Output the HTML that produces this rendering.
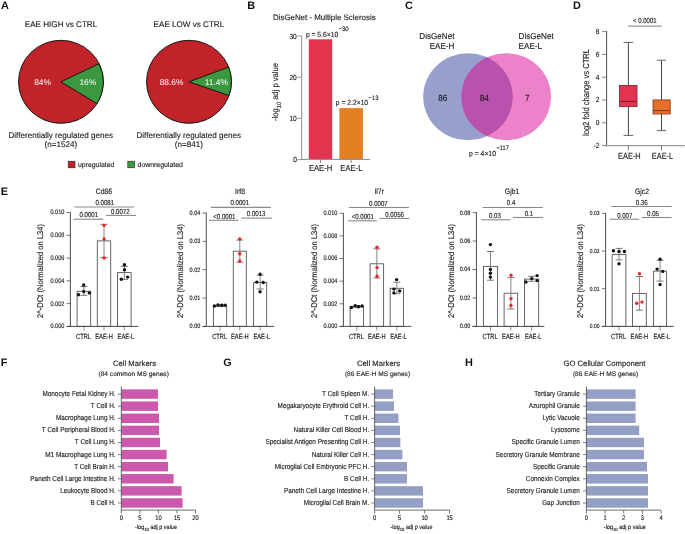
<!DOCTYPE html>
<html><head><meta charset="utf-8"><style>
html,body{margin:0;padding:0;background:#fff;}
svg{display:block;will-change:transform;text-rendering:geometricPrecision;font-family:"Liberation Sans",sans-serif;}
</style></head><body>
<svg width="685" height="534" viewBox="0 0 685 534">
<rect width="685" height="534" fill="#fff"/>
<text x="1.00" y="9.00" font-size="10.9" text-anchor="start" fill="#111" font-weight="bold" >A</text>
<text x="247.15" y="8.70" font-size="10.9" text-anchor="start" fill="#111" font-weight="bold" >B</text>
<text x="405.05" y="8.90" font-size="10.9" text-anchor="start" fill="#111" font-weight="bold" >C</text>
<text x="573.05" y="8.60" font-size="10.9" text-anchor="start" fill="#111" font-weight="bold" >D</text>
<text x="0.85" y="194.80" font-size="10.9" text-anchor="start" fill="#111" font-weight="bold" >E</text>
<text x="0.85" y="365.70" font-size="10.9" text-anchor="start" fill="#111" font-weight="bold" >F</text>
<text x="223.35" y="365.80" font-size="10.9" text-anchor="start" fill="#111" font-weight="bold" >G</text>
<text x="465.05" y="365.70" font-size="10.9" text-anchor="start" fill="#111" font-weight="bold" >H</text>
<ellipse cx="60.95" cy="81.8" rx="42.45" ry="41.5" fill="#c02428" stroke="#111" stroke-width="0.95"/>
<path d="M60.95,81.8 L99.14,63.67 A42.45,41.5 0 0 1 97.03,103.67 Z" fill="#3c983f" stroke="#111" stroke-width="0.95" stroke-linejoin="round"/>
<ellipse cx="188.95" cy="81.8" rx="42.45" ry="41.5" fill="#c02428" stroke="#111" stroke-width="0.95"/>
<path d="M188.95,81.8 L228.63,67.06 A42.45,41.5 0 0 1 228.99,95.58 Z" fill="#3c983f" stroke="#111" stroke-width="0.95" stroke-linejoin="round"/>
<text x="61.00" y="26.90" font-size="8.1" text-anchor="middle" fill="#1e1e1e" stroke="#1e1e1e" stroke-width="0.13" >EAE HIGH vs CTRL</text>
<text x="188.90" y="26.90" font-size="8.1" text-anchor="middle" fill="#1e1e1e" stroke="#1e1e1e" stroke-width="0.13" >EAE LOW vs CTRL</text>
<text x="42.60" y="84.80" font-size="8.4" text-anchor="middle" fill="#fff" >84%</text>
<text x="87.80" y="84.80" font-size="8.4" text-anchor="middle" fill="#fff" >16%</text>
<text x="171.50" y="84.80" font-size="8.4" text-anchor="middle" fill="#fff" >88.6%</text>
<text x="216.30" y="84.80" font-size="8.4" text-anchor="middle" fill="#fff" >11.4%</text>
<text x="60.80" y="138.40" font-size="8.1" text-anchor="middle" fill="#1e1e1e" stroke="#1e1e1e" stroke-width="0.13" >Differentially regulated genes</text>
<text x="60.80" y="147.40" font-size="8.1" text-anchor="middle" fill="#1e1e1e" stroke="#1e1e1e" stroke-width="0.13" >(n=1524)</text>
<text x="188.80" y="138.40" font-size="8.1" text-anchor="middle" fill="#1e1e1e" stroke="#1e1e1e" stroke-width="0.13" >Differentially regulated genes</text>
<text x="188.80" y="147.40" font-size="8.1" text-anchor="middle" fill="#1e1e1e" stroke="#1e1e1e" stroke-width="0.13" >(n=841)</text>
<rect x="68.20" y="161.20" width="6.80" height="6.60" fill="#c02428" stroke="#222" stroke-width="0.6"/>
<text x="78.00" y="167.00" font-size="6.9" text-anchor="start" fill="#1e1e1e" stroke="#1e1e1e" stroke-width="0.13" >upregulated</text>
<rect x="127.80" y="161.20" width="6.80" height="6.60" fill="#3c983f" stroke="#222" stroke-width="0.6"/>
<text x="137.60" y="167.00" font-size="6.9" text-anchor="start" fill="#1e1e1e" stroke="#1e1e1e" stroke-width="0.13" >downregulated</text>
<text x="273.00" y="19.80" font-size="7.9" text-anchor="start" fill="#1e1e1e" stroke="#1e1e1e" stroke-width="0.13" >DisGeNet - Multiple Sclerosis</text>
<line x1="297.50" y1="159.60" x2="301.70" y2="159.60" stroke="#8a8a8a" stroke-width="0.9"/>
<text transform="translate(296.80,162.10) scale(1,1.12)" font-size="6.6" text-anchor="end" fill="#1e1e1e" stroke="#1e1e1e" stroke-width="0.13" >0</text>
<line x1="297.50" y1="118.40" x2="301.70" y2="118.40" stroke="#8a8a8a" stroke-width="0.9"/>
<text transform="translate(296.80,120.90) scale(1,1.12)" font-size="6.6" text-anchor="end" fill="#1e1e1e" stroke="#1e1e1e" stroke-width="0.13" >10</text>
<line x1="297.50" y1="77.20" x2="301.70" y2="77.20" stroke="#8a8a8a" stroke-width="0.9"/>
<text transform="translate(296.80,79.70) scale(1,1.12)" font-size="6.6" text-anchor="end" fill="#1e1e1e" stroke="#1e1e1e" stroke-width="0.13" >20</text>
<line x1="297.50" y1="36.00" x2="301.70" y2="36.00" stroke="#8a8a8a" stroke-width="0.9"/>
<text transform="translate(296.80,38.50) scale(1,1.12)" font-size="6.6" text-anchor="end" fill="#1e1e1e" stroke="#1e1e1e" stroke-width="0.13" >30</text>
<rect x="308.80" y="39.30" width="23.40" height="120.10" fill="#e3334f"/>
<rect x="339.40" y="108.10" width="23.50" height="51.30" fill="#e38024"/>
<line x1="301.70" y1="35.60" x2="301.70" y2="159.90" stroke="#8a8a8a" stroke-width="1.0"/>
<line x1="301.20" y1="159.40" x2="370.20" y2="159.40" stroke="#8a8a8a" stroke-width="1.0"/>
<line x1="320.50" y1="159.40" x2="320.50" y2="163.00" stroke="#666" stroke-width="0.8"/>
<line x1="351.20" y1="159.40" x2="351.20" y2="163.00" stroke="#666" stroke-width="0.8"/>
<text transform="translate(320.60,170.60) scale(1,1.13)" font-size="7.66" text-anchor="middle" fill="#1e1e1e" stroke="#1e1e1e" stroke-width="0.13" >EAE-H</text>
<text transform="translate(351.40,170.60) scale(1,1.13)" font-size="7.66" text-anchor="middle" fill="#1e1e1e" stroke="#1e1e1e" stroke-width="0.13" >EAE-L</text>
<text transform="translate(305.90,37.00) scale(1,1.1)" font-size="6.75" text-anchor="start" fill="#1e1e1e" stroke="#1e1e1e" stroke-width="0.13" >p = 5.6×10</text>
<text transform="translate(338.40,31.20) scale(1,1.1)" font-size="6.0" text-anchor="start" fill="#1e1e1e" stroke="#1e1e1e" stroke-width="0.13" >−30</text>
<text transform="translate(335.80,104.90) scale(1,1.1)" font-size="6.75" text-anchor="start" fill="#1e1e1e" stroke="#1e1e1e" stroke-width="0.13" >p = 2.2×10</text>
<text transform="translate(368.30,100.10) scale(1,1.1)" font-size="6.0" text-anchor="start" fill="#1e1e1e" stroke="#1e1e1e" stroke-width="0.13" >−13</text>
<text transform="translate(277.6,92.0) rotate(-90) scale(1,1.1)" font-size="7.6" text-anchor="middle" fill="#1e1e1e" stroke="#1e1e1e" stroke-width="0.13">-log<tspan font-size="5.6" dy="3.2">10</tspan><tspan dy="-3.2"> adj p value</tspan></text>
<ellipse cx="468" cy="96.75" rx="44.8" ry="43.6" fill="#97a0cc"/>
<ellipse cx="506.2" cy="96.75" rx="44.9" ry="43.6" fill="#ec82c9"/>
<clipPath id="cl"><ellipse cx="468" cy="96.75" rx="44.8" ry="43.6"/></clipPath>
<ellipse cx="506.2" cy="96.75" rx="44.9" ry="43.6" fill="#b852ad" clip-path="url(#cl)"/>
<text transform="translate(454.40,39.20) scale(1,1.07)" font-size="8.1" text-anchor="end" fill="#1e1e1e" stroke="#1e1e1e" stroke-width="0.13" >DisGeNet</text>
<text transform="translate(454.40,49.00) scale(1,1.07)" font-size="8.1" text-anchor="end" fill="#1e1e1e" stroke="#1e1e1e" stroke-width="0.13" >EAE-H</text>
<text transform="translate(518.60,39.20) scale(1,1.07)" font-size="8.1" text-anchor="start" fill="#1e1e1e" stroke="#1e1e1e" stroke-width="0.13" >DisGeNet</text>
<text transform="translate(518.60,49.00) scale(1,1.07)" font-size="8.1" text-anchor="start" fill="#1e1e1e" stroke="#1e1e1e" stroke-width="0.13" >EAE-L</text>
<text transform="translate(442.70,100.70) scale(1,1.08)" font-size="8.2" text-anchor="middle" fill="#1e1e1e" stroke="#1e1e1e" stroke-width="0.13" >86</text>
<text transform="translate(484.30,100.70) scale(1,1.08)" font-size="8.2" text-anchor="middle" fill="#1e1e1e" stroke="#1e1e1e" stroke-width="0.13" >84</text>
<text transform="translate(527.20,100.70) scale(1,1.08)" font-size="8.2" text-anchor="middle" fill="#1e1e1e" stroke="#1e1e1e" stroke-width="0.13" >7</text>
<text transform="translate(469.00,155.60) scale(1,1.08)" font-size="6.84" text-anchor="start" fill="#1e1e1e" stroke="#1e1e1e" stroke-width="0.13" >p = 4×10</text>
<text transform="translate(496.60,150.20) scale(1,1.15)" font-size="5.6" text-anchor="start" fill="#1e1e1e" stroke="#1e1e1e" stroke-width="0.13" >−117</text>
<line x1="602.10" y1="31.60" x2="606.60" y2="31.60" stroke="#777" stroke-width="0.9"/>
<text transform="translate(599.40,34.00) scale(1,1.13)" font-size="6.6" text-anchor="end" fill="#1e1e1e" stroke="#1e1e1e" stroke-width="0.13" >8</text>
<line x1="602.10" y1="54.40" x2="606.60" y2="54.40" stroke="#777" stroke-width="0.9"/>
<text transform="translate(599.40,56.80) scale(1,1.13)" font-size="6.6" text-anchor="end" fill="#1e1e1e" stroke="#1e1e1e" stroke-width="0.13" >6</text>
<line x1="602.10" y1="77.20" x2="606.60" y2="77.20" stroke="#777" stroke-width="0.9"/>
<text transform="translate(599.40,79.60) scale(1,1.13)" font-size="6.6" text-anchor="end" fill="#1e1e1e" stroke="#1e1e1e" stroke-width="0.13" >4</text>
<line x1="602.10" y1="100.00" x2="606.60" y2="100.00" stroke="#777" stroke-width="0.9"/>
<text transform="translate(599.40,102.40) scale(1,1.13)" font-size="6.6" text-anchor="end" fill="#1e1e1e" stroke="#1e1e1e" stroke-width="0.13" >2</text>
<line x1="602.10" y1="122.80" x2="606.60" y2="122.80" stroke="#777" stroke-width="0.9"/>
<text transform="translate(599.40,125.20) scale(1,1.13)" font-size="6.6" text-anchor="end" fill="#1e1e1e" stroke="#1e1e1e" stroke-width="0.13" >0</text>
<line x1="602.10" y1="145.60" x2="606.60" y2="145.60" stroke="#777" stroke-width="0.9"/>
<text transform="translate(599.40,148.00) scale(1,1.13)" font-size="6.6" text-anchor="end" fill="#1e1e1e" stroke="#1e1e1e" stroke-width="0.13" >-2</text>
<line x1="628.40" y1="42.40" x2="628.40" y2="85.40" stroke="#3a3a3a" stroke-width="0.95"/>
<line x1="628.40" y1="106.40" x2="628.40" y2="135.40" stroke="#3a3a3a" stroke-width="0.95"/>
<line x1="623.60" y1="42.40" x2="633.20" y2="42.40" stroke="#666" stroke-width="1.0"/>
<line x1="623.60" y1="135.40" x2="633.20" y2="135.40" stroke="#666" stroke-width="1.0"/>
<rect x="619.60" y="85.40" width="17.40" height="21.00" fill="#e3344f" stroke="#7a1a2a" stroke-width="0.8"/>
<line x1="619.60" y1="101.40" x2="637.00" y2="101.40" stroke="#7a1a2a" stroke-width="1.0"/>
<line x1="661.50" y1="60.20" x2="661.50" y2="99.90" stroke="#3a3a3a" stroke-width="0.95"/>
<line x1="661.50" y1="114.00" x2="661.50" y2="130.60" stroke="#3a3a3a" stroke-width="0.95"/>
<line x1="656.90" y1="60.20" x2="666.10" y2="60.20" stroke="#666" stroke-width="1.0"/>
<line x1="656.90" y1="130.60" x2="666.10" y2="130.60" stroke="#666" stroke-width="1.0"/>
<rect x="653.00" y="99.90" width="17.20" height="14.10" fill="#e6702b" stroke="#7a3a14" stroke-width="0.8"/>
<line x1="653.00" y1="110.60" x2="670.20" y2="110.60" stroke="#7a3a14" stroke-width="1.0"/>
<line x1="606.60" y1="31.20" x2="606.60" y2="146.20" stroke="#444" stroke-width="0.95"/>
<line x1="606.20" y1="145.60" x2="684.80" y2="145.60" stroke="#9a9a9a" stroke-width="1.3"/>
<line x1="628.00" y1="26.10" x2="661.80" y2="26.10" stroke="#9a9a9a" stroke-width="1.1"/>
<text transform="translate(644.80,23.40) scale(1,1.22)" font-size="6.0" text-anchor="middle" fill="#1e1e1e" stroke="#1e1e1e" stroke-width="0.13" >&lt; 0.0001</text>
<line x1="628.40" y1="146.00" x2="628.40" y2="150.40" stroke="#666" stroke-width="0.9"/>
<line x1="661.50" y1="146.00" x2="661.50" y2="150.40" stroke="#666" stroke-width="0.9"/>
<text transform="translate(629.40,159.20) scale(1,1.2)" font-size="7.4" text-anchor="middle" fill="#1e1e1e" stroke="#1e1e1e" stroke-width="0.13" >EAE-H</text>
<text transform="translate(662.50,159.20) scale(1,1.2)" font-size="7.4" text-anchor="middle" fill="#1e1e1e" stroke="#1e1e1e" stroke-width="0.13" >EAE-L</text>
<text transform="translate(589.2,92.5) rotate(-90) scale(1,1.16)" font-size="7.56" text-anchor="middle" fill="#1e1e1e" stroke="#1e1e1e" stroke-width="0.13">log2 fold change vs CTRL</text>
<line x1="66.60" y1="326.40" x2="70.40" y2="326.40" stroke="#666" stroke-width="0.9"/>
<text transform="translate(64.40,328.30) scale(1,1.18)" font-size="5.6" text-anchor="end" fill="#1e1e1e" stroke="#1e1e1e" stroke-width="0.13" >0.000</text>
<line x1="66.60" y1="303.62" x2="70.40" y2="303.62" stroke="#666" stroke-width="0.9"/>
<text transform="translate(64.40,305.52) scale(1,1.18)" font-size="5.6" text-anchor="end" fill="#1e1e1e" stroke="#1e1e1e" stroke-width="0.13" >0.002</text>
<line x1="66.60" y1="280.84" x2="70.40" y2="280.84" stroke="#666" stroke-width="0.9"/>
<text transform="translate(64.40,282.74) scale(1,1.18)" font-size="5.6" text-anchor="end" fill="#1e1e1e" stroke="#1e1e1e" stroke-width="0.13" >0.004</text>
<line x1="66.60" y1="258.06" x2="70.40" y2="258.06" stroke="#666" stroke-width="0.9"/>
<text transform="translate(64.40,259.96) scale(1,1.18)" font-size="5.6" text-anchor="end" fill="#1e1e1e" stroke="#1e1e1e" stroke-width="0.13" >0.006</text>
<line x1="66.60" y1="235.28" x2="70.40" y2="235.28" stroke="#666" stroke-width="0.9"/>
<text transform="translate(64.40,237.18) scale(1,1.18)" font-size="5.6" text-anchor="end" fill="#1e1e1e" stroke="#1e1e1e" stroke-width="0.13" >0.008</text>
<line x1="66.60" y1="212.50" x2="70.40" y2="212.50" stroke="#666" stroke-width="0.9"/>
<text transform="translate(64.40,214.40) scale(1,1.18)" font-size="5.6" text-anchor="end" fill="#1e1e1e" stroke="#1e1e1e" stroke-width="0.13" >0.010</text>
<rect x="77.10" y="291.30" width="13.60" height="35.10" fill="none" stroke="#555" stroke-width="0.9"/>
<line x1="83.90" y1="286.60" x2="83.90" y2="295.30" stroke="#666" stroke-width="0.8"/>
<line x1="80.40" y1="286.60" x2="87.40" y2="286.60" stroke="#555" stroke-width="0.8"/>
<line x1="80.40" y1="295.30" x2="87.40" y2="295.30" stroke="#555" stroke-width="0.8"/>
<circle cx="83.70" cy="285.00" r="1.70" fill="#111" />
<circle cx="83.70" cy="291.50" r="1.70" fill="#111" />
<circle cx="78.50" cy="294.80" r="1.70" fill="#111" />
<circle cx="89.30" cy="292.90" r="1.70" fill="#111" />
<line x1="83.90" y1="326.40" x2="83.90" y2="330.60" stroke="#777" stroke-width="0.8"/>
<rect x="97.30" y="240.90" width="13.40" height="85.50" fill="none" stroke="#555" stroke-width="0.9"/>
<line x1="104.00" y1="224.30" x2="104.00" y2="257.60" stroke="#666" stroke-width="0.8"/>
<line x1="100.50" y1="224.30" x2="107.50" y2="224.30" stroke="#555" stroke-width="0.8"/>
<line x1="100.50" y1="257.60" x2="107.50" y2="257.60" stroke="#555" stroke-width="0.8"/>
<circle cx="104.10" cy="225.40" r="1.70" fill="#ec2327" />
<circle cx="104.10" cy="238.90" r="1.70" fill="#ec2327" />
<circle cx="104.10" cy="258.00" r="1.70" fill="#ec2327" />
<line x1="104.00" y1="326.40" x2="104.00" y2="330.60" stroke="#777" stroke-width="0.8"/>
<rect x="117.50" y="272.60" width="13.60" height="53.80" fill="none" stroke="#555" stroke-width="0.9"/>
<line x1="124.30" y1="266.40" x2="124.30" y2="279.40" stroke="#666" stroke-width="0.8"/>
<line x1="120.80" y1="266.40" x2="127.80" y2="266.40" stroke="#555" stroke-width="0.8"/>
<line x1="120.80" y1="279.40" x2="127.80" y2="279.40" stroke="#555" stroke-width="0.8"/>
<circle cx="124.50" cy="264.70" r="1.70" fill="#111" />
<circle cx="124.50" cy="269.80" r="1.70" fill="#111" />
<circle cx="121.30" cy="279.20" r="1.70" fill="#111" />
<circle cx="127.60" cy="277.10" r="1.70" fill="#111" />
<line x1="124.30" y1="326.40" x2="124.30" y2="330.60" stroke="#777" stroke-width="0.8"/>
<line x1="70.40" y1="212.10" x2="70.40" y2="326.80" stroke="#444" stroke-width="0.95"/>
<line x1="66.60" y1="326.40" x2="138.40" y2="326.40" stroke="#444" stroke-width="0.95"/>
<text transform="translate(83.50,338.60) scale(1,1.3)" font-size="5.75" text-anchor="middle" fill="#1e1e1e" stroke="#1e1e1e" stroke-width="0.13" >CTRL</text>
<text transform="translate(104.00,338.60) scale(1,1.3)" font-size="5.75" text-anchor="middle" fill="#1e1e1e" stroke="#1e1e1e" stroke-width="0.13" >EAE-H</text>
<text transform="translate(125.90,338.60) scale(1,1.3)" font-size="5.75" text-anchor="middle" fill="#1e1e1e" stroke="#1e1e1e" stroke-width="0.13" >EAE-L</text>
<text transform="translate(103.90,193.90) scale(1,1.12)" font-size="6.9" text-anchor="middle" fill="#1e1e1e" stroke="#1e1e1e" stroke-width="0.13" >Cd86</text>
<line x1="74.30" y1="207.00" x2="134.20" y2="207.00" stroke="#8a8a8a" stroke-width="1.1"/>
<text transform="translate(104.80,204.60) scale(1,1.2)" font-size="6.1" text-anchor="middle" fill="#1e1e1e" stroke="#1e1e1e" stroke-width="0.13" >0.0081</text>
<line x1="73.40" y1="219.20" x2="103.30" y2="219.20" stroke="#8a8a8a" stroke-width="1.1"/>
<text transform="translate(88.80,217.20) scale(1,1.2)" font-size="6.1" text-anchor="middle" fill="#1e1e1e" stroke="#1e1e1e" stroke-width="0.13" >0.0001</text>
<line x1="106.10" y1="215.40" x2="136.00" y2="215.40" stroke="#8a8a8a" stroke-width="1.1"/>
<text transform="translate(120.30,214.40) scale(1,1.2)" font-size="6.1" text-anchor="middle" fill="#1e1e1e" stroke="#1e1e1e" stroke-width="0.13" >0.0072</text>
<line x1="202.50" y1="326.40" x2="206.30" y2="326.40" stroke="#666" stroke-width="0.9"/>
<text transform="translate(200.30,328.30) scale(1,1.18)" font-size="5.5" text-anchor="end" fill="#1e1e1e" stroke="#1e1e1e" stroke-width="0.13" >0.00</text>
<line x1="202.50" y1="298.05" x2="206.30" y2="298.05" stroke="#666" stroke-width="0.9"/>
<text transform="translate(200.30,299.95) scale(1,1.18)" font-size="5.5" text-anchor="end" fill="#1e1e1e" stroke="#1e1e1e" stroke-width="0.13" >0.01</text>
<line x1="202.50" y1="269.70" x2="206.30" y2="269.70" stroke="#666" stroke-width="0.9"/>
<text transform="translate(200.30,271.60) scale(1,1.18)" font-size="5.5" text-anchor="end" fill="#1e1e1e" stroke="#1e1e1e" stroke-width="0.13" >0.02</text>
<line x1="202.50" y1="241.35" x2="206.30" y2="241.35" stroke="#666" stroke-width="0.9"/>
<text transform="translate(200.30,243.25) scale(1,1.18)" font-size="5.5" text-anchor="end" fill="#1e1e1e" stroke="#1e1e1e" stroke-width="0.13" >0.03</text>
<line x1="202.50" y1="213.00" x2="206.30" y2="213.00" stroke="#666" stroke-width="0.9"/>
<text transform="translate(200.30,214.90) scale(1,1.18)" font-size="5.5" text-anchor="end" fill="#1e1e1e" stroke="#1e1e1e" stroke-width="0.13" >0.04</text>
<rect x="213.40" y="305.90" width="13.30" height="20.50" fill="none" stroke="#555" stroke-width="0.9"/>
<line x1="220.05" y1="304.90" x2="220.05" y2="306.60" stroke="#666" stroke-width="0.8"/>
<line x1="216.55" y1="304.90" x2="223.55" y2="304.90" stroke="#555" stroke-width="0.8"/>
<line x1="216.55" y1="306.60" x2="223.55" y2="306.60" stroke="#555" stroke-width="0.8"/>
<circle cx="214.40" cy="306.00" r="1.70" fill="#111" />
<circle cx="218.00" cy="304.90" r="1.70" fill="#111" />
<circle cx="221.80" cy="305.30" r="1.70" fill="#111" />
<circle cx="225.20" cy="305.30" r="1.70" fill="#111" />
<line x1="220.05" y1="326.40" x2="220.05" y2="330.60" stroke="#777" stroke-width="0.8"/>
<rect x="233.30" y="251.20" width="13.00" height="75.20" fill="none" stroke="#555" stroke-width="0.9"/>
<line x1="239.80" y1="240.00" x2="239.80" y2="262.20" stroke="#666" stroke-width="0.8"/>
<line x1="236.30" y1="240.00" x2="243.30" y2="240.00" stroke="#555" stroke-width="0.8"/>
<line x1="236.30" y1="262.20" x2="243.30" y2="262.20" stroke="#555" stroke-width="0.8"/>
<circle cx="239.70" cy="238.90" r="1.70" fill="#ec2327" />
<circle cx="239.70" cy="253.80" r="1.70" fill="#ec2327" />
<circle cx="239.70" cy="261.00" r="1.70" fill="#ec2327" />
<line x1="239.80" y1="326.40" x2="239.80" y2="330.60" stroke="#777" stroke-width="0.8"/>
<rect x="253.60" y="282.50" width="13.10" height="43.90" fill="none" stroke="#555" stroke-width="0.9"/>
<line x1="260.15" y1="275.20" x2="260.15" y2="289.00" stroke="#666" stroke-width="0.8"/>
<line x1="256.65" y1="275.20" x2="263.65" y2="275.20" stroke="#555" stroke-width="0.8"/>
<line x1="256.65" y1="289.00" x2="263.65" y2="289.00" stroke="#555" stroke-width="0.8"/>
<circle cx="260.10" cy="274.20" r="1.70" fill="#111" />
<circle cx="256.80" cy="282.10" r="1.70" fill="#111" />
<circle cx="263.20" cy="282.50" r="1.70" fill="#111" />
<circle cx="260.10" cy="291.70" r="1.70" fill="#111" />
<line x1="260.15" y1="326.40" x2="260.15" y2="330.60" stroke="#777" stroke-width="0.8"/>
<line x1="206.30" y1="212.60" x2="206.30" y2="326.80" stroke="#444" stroke-width="0.95"/>
<line x1="202.50" y1="326.40" x2="274.30" y2="326.40" stroke="#444" stroke-width="0.95"/>
<text transform="translate(219.65,338.60) scale(1,1.3)" font-size="5.75" text-anchor="middle" fill="#1e1e1e" stroke="#1e1e1e" stroke-width="0.13" >CTRL</text>
<text transform="translate(239.80,338.60) scale(1,1.3)" font-size="5.75" text-anchor="middle" fill="#1e1e1e" stroke="#1e1e1e" stroke-width="0.13" >EAE-H</text>
<text transform="translate(261.75,338.60) scale(1,1.3)" font-size="5.75" text-anchor="middle" fill="#1e1e1e" stroke="#1e1e1e" stroke-width="0.13" >EAE-L</text>
<text transform="translate(240.00,193.90) scale(1,1.12)" font-size="6.9" text-anchor="middle" fill="#1e1e1e" stroke="#1e1e1e" stroke-width="0.13" >Irf8</text>
<line x1="210.80" y1="207.40" x2="270.80" y2="207.40" stroke="#8a8a8a" stroke-width="1.1"/>
<text transform="translate(239.75,205.00) scale(1,1.2)" font-size="6.1" text-anchor="middle" fill="#1e1e1e" stroke="#1e1e1e" stroke-width="0.13" >0.0001</text>
<line x1="209.10" y1="220.30" x2="238.40" y2="220.30" stroke="#8a8a8a" stroke-width="1.1"/>
<text transform="translate(224.35,218.60) scale(1,1.2)" font-size="6.1" text-anchor="middle" fill="#1e1e1e" stroke="#1e1e1e" stroke-width="0.13" >&lt;0.0001</text>
<line x1="241.20" y1="218.10" x2="272.00" y2="218.10" stroke="#8a8a8a" stroke-width="1.1"/>
<text transform="translate(256.15,216.30) scale(1,1.2)" font-size="6.1" text-anchor="middle" fill="#1e1e1e" stroke="#1e1e1e" stroke-width="0.13" >0.0013</text>
<line x1="339.60" y1="326.40" x2="343.40" y2="326.40" stroke="#666" stroke-width="0.9"/>
<text transform="translate(337.40,328.30) scale(1,1.18)" font-size="5.6" text-anchor="end" fill="#1e1e1e" stroke="#1e1e1e" stroke-width="0.13" >0.000</text>
<line x1="339.60" y1="303.78" x2="343.40" y2="303.78" stroke="#666" stroke-width="0.9"/>
<text transform="translate(337.40,305.68) scale(1,1.18)" font-size="5.6" text-anchor="end" fill="#1e1e1e" stroke="#1e1e1e" stroke-width="0.13" >0.002</text>
<line x1="339.60" y1="281.16" x2="343.40" y2="281.16" stroke="#666" stroke-width="0.9"/>
<text transform="translate(337.40,283.06) scale(1,1.18)" font-size="5.6" text-anchor="end" fill="#1e1e1e" stroke="#1e1e1e" stroke-width="0.13" >0.004</text>
<line x1="339.60" y1="258.54" x2="343.40" y2="258.54" stroke="#666" stroke-width="0.9"/>
<text transform="translate(337.40,260.44) scale(1,1.18)" font-size="5.6" text-anchor="end" fill="#1e1e1e" stroke="#1e1e1e" stroke-width="0.13" >0.006</text>
<line x1="339.60" y1="235.92" x2="343.40" y2="235.92" stroke="#666" stroke-width="0.9"/>
<text transform="translate(337.40,237.82) scale(1,1.18)" font-size="5.6" text-anchor="end" fill="#1e1e1e" stroke="#1e1e1e" stroke-width="0.13" >0.008</text>
<line x1="339.60" y1="213.30" x2="343.40" y2="213.30" stroke="#666" stroke-width="0.9"/>
<text transform="translate(337.40,215.20) scale(1,1.18)" font-size="5.6" text-anchor="end" fill="#1e1e1e" stroke="#1e1e1e" stroke-width="0.13" >0.010</text>
<rect x="350.10" y="306.70" width="13.50" height="19.70" fill="none" stroke="#555" stroke-width="0.9"/>
<line x1="356.85" y1="305.60" x2="356.85" y2="307.60" stroke="#666" stroke-width="0.8"/>
<line x1="353.35" y1="305.60" x2="360.35" y2="305.60" stroke="#555" stroke-width="0.8"/>
<line x1="353.35" y1="307.60" x2="360.35" y2="307.60" stroke="#555" stroke-width="0.8"/>
<circle cx="351.40" cy="307.50" r="1.70" fill="#111" />
<circle cx="355.20" cy="305.60" r="1.70" fill="#111" />
<circle cx="358.60" cy="306.70" r="1.70" fill="#111" />
<circle cx="362.10" cy="306.00" r="1.70" fill="#111" />
<line x1="356.85" y1="326.40" x2="356.85" y2="330.60" stroke="#777" stroke-width="0.8"/>
<rect x="370.10" y="263.80" width="13.50" height="62.60" fill="none" stroke="#555" stroke-width="0.9"/>
<line x1="376.85" y1="248.90" x2="376.85" y2="278.00" stroke="#666" stroke-width="0.8"/>
<line x1="373.35" y1="248.90" x2="380.35" y2="248.90" stroke="#555" stroke-width="0.8"/>
<line x1="373.35" y1="278.00" x2="380.35" y2="278.00" stroke="#555" stroke-width="0.8"/>
<circle cx="377.00" cy="247.20" r="1.70" fill="#ec2327" />
<circle cx="377.00" cy="267.60" r="1.70" fill="#ec2327" />
<circle cx="377.00" cy="276.30" r="1.70" fill="#ec2327" />
<line x1="376.85" y1="326.40" x2="376.85" y2="330.60" stroke="#777" stroke-width="0.8"/>
<rect x="390.20" y="288.30" width="13.30" height="38.10" fill="none" stroke="#555" stroke-width="0.9"/>
<line x1="396.85" y1="282.20" x2="396.85" y2="293.70" stroke="#666" stroke-width="0.8"/>
<line x1="393.35" y1="282.20" x2="400.35" y2="282.20" stroke="#555" stroke-width="0.8"/>
<line x1="393.35" y1="293.70" x2="400.35" y2="293.70" stroke="#555" stroke-width="0.8"/>
<circle cx="396.60" cy="279.60" r="1.70" fill="#111" />
<circle cx="393.90" cy="289.10" r="1.70" fill="#111" />
<circle cx="399.70" cy="290.90" r="1.70" fill="#111" />
<circle cx="393.90" cy="292.90" r="1.70" fill="#111" />
<line x1="396.85" y1="326.40" x2="396.85" y2="330.60" stroke="#777" stroke-width="0.8"/>
<line x1="343.40" y1="212.90" x2="343.40" y2="326.80" stroke="#444" stroke-width="0.95"/>
<line x1="339.60" y1="326.40" x2="411.40" y2="326.40" stroke="#444" stroke-width="0.95"/>
<text transform="translate(356.45,338.60) scale(1,1.3)" font-size="5.75" text-anchor="middle" fill="#1e1e1e" stroke="#1e1e1e" stroke-width="0.13" >CTRL</text>
<text transform="translate(376.85,338.60) scale(1,1.3)" font-size="5.75" text-anchor="middle" fill="#1e1e1e" stroke="#1e1e1e" stroke-width="0.13" >EAE-H</text>
<text transform="translate(398.45,338.60) scale(1,1.3)" font-size="5.75" text-anchor="middle" fill="#1e1e1e" stroke="#1e1e1e" stroke-width="0.13" >EAE-L</text>
<text transform="translate(379.20,193.90) scale(1,1.12)" font-size="6.9" text-anchor="middle" fill="#1e1e1e" stroke="#1e1e1e" stroke-width="0.13" >Il7r</text>
<line x1="348.90" y1="207.50" x2="409.00" y2="207.50" stroke="#8a8a8a" stroke-width="1.1"/>
<text transform="translate(378.40,205.50) scale(1,1.2)" font-size="6.1" text-anchor="middle" fill="#1e1e1e" stroke="#1e1e1e" stroke-width="0.13" >0.0007</text>
<line x1="347.80" y1="220.80" x2="376.80" y2="220.80" stroke="#8a8a8a" stroke-width="1.1"/>
<text transform="translate(362.75,219.10) scale(1,1.2)" font-size="6.1" text-anchor="middle" fill="#1e1e1e" stroke="#1e1e1e" stroke-width="0.13" >&lt;0.0001</text>
<line x1="379.40" y1="218.40" x2="409.40" y2="218.40" stroke="#8a8a8a" stroke-width="1.1"/>
<text transform="translate(394.60,216.70) scale(1,1.2)" font-size="6.1" text-anchor="middle" fill="#1e1e1e" stroke="#1e1e1e" stroke-width="0.13" >0.0056</text>
<line x1="472.60" y1="326.40" x2="476.40" y2="326.40" stroke="#666" stroke-width="0.9"/>
<text transform="translate(470.40,328.30) scale(1,1.18)" font-size="5.5" text-anchor="end" fill="#1e1e1e" stroke="#1e1e1e" stroke-width="0.13" >0.00</text>
<line x1="472.60" y1="297.95" x2="476.40" y2="297.95" stroke="#666" stroke-width="0.9"/>
<text transform="translate(470.40,299.85) scale(1,1.18)" font-size="5.5" text-anchor="end" fill="#1e1e1e" stroke="#1e1e1e" stroke-width="0.13" >0.02</text>
<line x1="472.60" y1="269.50" x2="476.40" y2="269.50" stroke="#666" stroke-width="0.9"/>
<text transform="translate(470.40,271.40) scale(1,1.18)" font-size="5.5" text-anchor="end" fill="#1e1e1e" stroke="#1e1e1e" stroke-width="0.13" >0.04</text>
<line x1="472.60" y1="241.05" x2="476.40" y2="241.05" stroke="#666" stroke-width="0.9"/>
<text transform="translate(470.40,242.95) scale(1,1.18)" font-size="5.5" text-anchor="end" fill="#1e1e1e" stroke="#1e1e1e" stroke-width="0.13" >0.06</text>
<line x1="472.60" y1="212.60" x2="476.40" y2="212.60" stroke="#666" stroke-width="0.9"/>
<text transform="translate(470.40,214.50) scale(1,1.18)" font-size="5.5" text-anchor="end" fill="#1e1e1e" stroke="#1e1e1e" stroke-width="0.13" >0.08</text>
<rect x="483.40" y="266.40" width="14.20" height="60.00" fill="none" stroke="#555" stroke-width="0.9"/>
<line x1="490.50" y1="251.50" x2="490.50" y2="280.20" stroke="#666" stroke-width="0.8"/>
<line x1="487.00" y1="251.50" x2="494.00" y2="251.50" stroke="#555" stroke-width="0.8"/>
<line x1="487.00" y1="280.20" x2="494.00" y2="280.20" stroke="#555" stroke-width="0.8"/>
<circle cx="490.40" cy="244.60" r="1.70" fill="#111" />
<circle cx="490.40" cy="269.40" r="1.70" fill="#111" />
<circle cx="490.40" cy="273.30" r="1.70" fill="#111" />
<circle cx="490.40" cy="277.10" r="1.70" fill="#111" />
<line x1="490.50" y1="326.40" x2="490.50" y2="330.60" stroke="#777" stroke-width="0.8"/>
<rect x="504.10" y="293.20" width="13.50" height="33.20" fill="none" stroke="#555" stroke-width="0.9"/>
<line x1="510.85" y1="277.60" x2="510.85" y2="309.00" stroke="#666" stroke-width="0.8"/>
<line x1="507.35" y1="277.60" x2="514.35" y2="277.60" stroke="#555" stroke-width="0.8"/>
<line x1="507.35" y1="309.00" x2="514.35" y2="309.00" stroke="#555" stroke-width="0.8"/>
<circle cx="511.00" cy="275.30" r="1.70" fill="#ec2327" />
<circle cx="511.00" cy="298.60" r="1.70" fill="#ec2327" />
<circle cx="511.00" cy="305.50" r="1.70" fill="#ec2327" />
<line x1="510.85" y1="326.40" x2="510.85" y2="330.60" stroke="#777" stroke-width="0.8"/>
<rect x="524.50" y="279.10" width="14.20" height="47.30" fill="none" stroke="#555" stroke-width="0.9"/>
<line x1="531.60" y1="276.30" x2="531.60" y2="281.30" stroke="#666" stroke-width="0.8"/>
<line x1="528.10" y1="276.30" x2="535.10" y2="276.30" stroke="#555" stroke-width="0.8"/>
<line x1="528.10" y1="281.30" x2="535.10" y2="281.30" stroke="#555" stroke-width="0.8"/>
<circle cx="526.00" cy="282.00" r="1.70" fill="#111" />
<circle cx="531.70" cy="278.60" r="1.70" fill="#111" />
<circle cx="537.10" cy="275.60" r="1.70" fill="#111" />
<circle cx="537.10" cy="280.60" r="1.70" fill="#111" />
<line x1="531.60" y1="326.40" x2="531.60" y2="330.60" stroke="#777" stroke-width="0.8"/>
<line x1="476.40" y1="212.20" x2="476.40" y2="326.80" stroke="#444" stroke-width="0.95"/>
<line x1="472.60" y1="326.40" x2="544.40" y2="326.40" stroke="#444" stroke-width="0.95"/>
<text transform="translate(490.10,338.60) scale(1,1.3)" font-size="5.75" text-anchor="middle" fill="#1e1e1e" stroke="#1e1e1e" stroke-width="0.13" >CTRL</text>
<text transform="translate(510.85,338.60) scale(1,1.3)" font-size="5.75" text-anchor="middle" fill="#1e1e1e" stroke="#1e1e1e" stroke-width="0.13" >EAE-H</text>
<text transform="translate(533.20,338.60) scale(1,1.3)" font-size="5.75" text-anchor="middle" fill="#1e1e1e" stroke="#1e1e1e" stroke-width="0.13" >EAE-L</text>
<text transform="translate(512.10,193.90) scale(1,1.12)" font-size="6.9" text-anchor="middle" fill="#1e1e1e" stroke="#1e1e1e" stroke-width="0.13" >Gjb1</text>
<line x1="482.70" y1="207.50" x2="542.80" y2="207.50" stroke="#8a8a8a" stroke-width="1.1"/>
<text transform="translate(511.10,204.90) scale(1,1.2)" font-size="6.1" text-anchor="middle" fill="#1e1e1e" stroke="#1e1e1e" stroke-width="0.13" >0.4</text>
<line x1="481.30" y1="219.80" x2="510.20" y2="219.80" stroke="#8a8a8a" stroke-width="1.1"/>
<text transform="translate(494.95,218.40) scale(1,1.2)" font-size="6.1" text-anchor="middle" fill="#1e1e1e" stroke="#1e1e1e" stroke-width="0.13" >0.03</text>
<line x1="513.00" y1="217.50" x2="543.00" y2="217.50" stroke="#8a8a8a" stroke-width="1.1"/>
<text transform="translate(528.90,216.30) scale(1,1.2)" font-size="6.1" text-anchor="middle" fill="#1e1e1e" stroke="#1e1e1e" stroke-width="0.13" >0.1</text>
<line x1="601.80" y1="326.40" x2="605.60" y2="326.40" stroke="#666" stroke-width="0.9"/>
<text transform="translate(599.60,328.30) scale(1,1.18)" font-size="5.0" text-anchor="end" fill="#1e1e1e" stroke="#1e1e1e" stroke-width="0.13" >0.00</text>
<line x1="601.80" y1="288.70" x2="605.60" y2="288.70" stroke="#666" stroke-width="0.9"/>
<text transform="translate(599.60,290.60) scale(1,1.18)" font-size="5.0" text-anchor="end" fill="#1e1e1e" stroke="#1e1e1e" stroke-width="0.13" >0.01</text>
<line x1="601.80" y1="251.00" x2="605.60" y2="251.00" stroke="#666" stroke-width="0.9"/>
<text transform="translate(599.60,252.90) scale(1,1.18)" font-size="5.0" text-anchor="end" fill="#1e1e1e" stroke="#1e1e1e" stroke-width="0.13" >0.02</text>
<line x1="601.80" y1="213.30" x2="605.60" y2="213.30" stroke="#666" stroke-width="0.9"/>
<text transform="translate(599.60,215.20) scale(1,1.18)" font-size="5.0" text-anchor="end" fill="#1e1e1e" stroke="#1e1e1e" stroke-width="0.13" >0.03</text>
<rect x="612.10" y="254.60" width="13.80" height="71.80" fill="none" stroke="#555" stroke-width="0.9"/>
<line x1="619.00" y1="248.40" x2="619.00" y2="259.90" stroke="#666" stroke-width="0.8"/>
<line x1="615.50" y1="248.40" x2="622.50" y2="248.40" stroke="#555" stroke-width="0.8"/>
<line x1="615.50" y1="259.90" x2="622.50" y2="259.90" stroke="#555" stroke-width="0.8"/>
<circle cx="613.40" cy="250.70" r="1.70" fill="#111" />
<circle cx="619.00" cy="251.50" r="1.70" fill="#111" />
<circle cx="624.40" cy="251.50" r="1.70" fill="#111" />
<circle cx="619.00" cy="263.80" r="1.70" fill="#111" />
<line x1="619.00" y1="326.40" x2="619.00" y2="330.60" stroke="#777" stroke-width="0.8"/>
<rect x="632.50" y="293.40" width="13.80" height="33.00" fill="none" stroke="#555" stroke-width="0.9"/>
<line x1="639.40" y1="276.50" x2="639.40" y2="310.20" stroke="#666" stroke-width="0.8"/>
<line x1="635.90" y1="276.50" x2="642.90" y2="276.50" stroke="#555" stroke-width="0.8"/>
<line x1="635.90" y1="310.20" x2="642.90" y2="310.20" stroke="#555" stroke-width="0.8"/>
<circle cx="639.40" cy="273.70" r="1.70" fill="#ec2327" />
<circle cx="636.70" cy="303.30" r="1.70" fill="#ec2327" />
<circle cx="642.00" cy="302.10" r="1.70" fill="#ec2327" />
<line x1="639.40" y1="326.40" x2="639.40" y2="330.60" stroke="#777" stroke-width="0.8"/>
<rect x="653.60" y="271.10" width="13.00" height="55.30" fill="none" stroke="#555" stroke-width="0.9"/>
<line x1="660.10" y1="260.20" x2="660.10" y2="281.10" stroke="#666" stroke-width="0.8"/>
<line x1="656.60" y1="260.20" x2="663.60" y2="260.20" stroke="#555" stroke-width="0.8"/>
<line x1="656.60" y1="281.10" x2="663.60" y2="281.10" stroke="#555" stroke-width="0.8"/>
<circle cx="660.10" cy="259.20" r="1.70" fill="#111" />
<circle cx="657.10" cy="269.10" r="1.70" fill="#111" />
<circle cx="662.80" cy="271.40" r="1.70" fill="#111" />
<circle cx="660.10" cy="284.50" r="1.70" fill="#111" />
<line x1="660.10" y1="326.40" x2="660.10" y2="330.60" stroke="#777" stroke-width="0.8"/>
<line x1="605.60" y1="212.90" x2="605.60" y2="326.80" stroke="#444" stroke-width="0.95"/>
<line x1="601.80" y1="326.40" x2="673.60" y2="326.40" stroke="#444" stroke-width="0.95"/>
<text transform="translate(618.60,338.60) scale(1,1.3)" font-size="5.75" text-anchor="middle" fill="#1e1e1e" stroke="#1e1e1e" stroke-width="0.13" >CTRL</text>
<text transform="translate(639.40,338.60) scale(1,1.3)" font-size="5.75" text-anchor="middle" fill="#1e1e1e" stroke="#1e1e1e" stroke-width="0.13" >EAE-H</text>
<text transform="translate(661.70,338.60) scale(1,1.3)" font-size="5.75" text-anchor="middle" fill="#1e1e1e" stroke="#1e1e1e" stroke-width="0.13" >EAE-L</text>
<text transform="translate(642.00,193.90) scale(1,1.12)" font-size="6.9" text-anchor="middle" fill="#1e1e1e" stroke="#1e1e1e" stroke-width="0.13" >Gjc2</text>
<line x1="611.20" y1="206.50" x2="671.60" y2="206.50" stroke="#8a8a8a" stroke-width="1.1"/>
<text transform="translate(641.70,204.60) scale(1,1.2)" font-size="6.1" text-anchor="middle" fill="#1e1e1e" stroke="#1e1e1e" stroke-width="0.13" >0.36</text>
<line x1="609.80" y1="219.20" x2="639.20" y2="219.20" stroke="#8a8a8a" stroke-width="1.1"/>
<text transform="translate(624.75,217.70) scale(1,1.2)" font-size="6.1" text-anchor="middle" fill="#1e1e1e" stroke="#1e1e1e" stroke-width="0.13" >0.007</text>
<line x1="641.80" y1="217.50" x2="671.60" y2="217.50" stroke="#8a8a8a" stroke-width="1.1"/>
<text transform="translate(653.05,215.50) scale(1,1.2)" font-size="6.1" text-anchor="middle" fill="#1e1e1e" stroke="#1e1e1e" stroke-width="0.13" >0.05</text>
<text transform="translate(42.50,271) rotate(-90) scale(1,1.1)" font-size="7.57" text-anchor="middle" fill="#1e1e1e" stroke="#1e1e1e" stroke-width="0.13">2^-DCt (Normalized on L34)</text>
<text transform="translate(182.80,271) rotate(-90) scale(1,1.1)" font-size="7.57" text-anchor="middle" fill="#1e1e1e" stroke="#1e1e1e" stroke-width="0.13">2^-DCt (Normalized on L34)</text>
<text transform="translate(317.20,271) rotate(-90) scale(1,1.1)" font-size="7.57" text-anchor="middle" fill="#1e1e1e" stroke="#1e1e1e" stroke-width="0.13">2^-DCt (Normalized on L34)</text>
<text transform="translate(453.50,271) rotate(-90) scale(1,1.1)" font-size="7.57" text-anchor="middle" fill="#1e1e1e" stroke="#1e1e1e" stroke-width="0.13">2^-DCt (Normalized on L34)</text>
<text transform="translate(582.80,271) rotate(-90) scale(1,1.1)" font-size="7.57" text-anchor="middle" fill="#1e1e1e" stroke="#1e1e1e" stroke-width="0.13">2^-DCt (Normalized on L34)</text>
<rect x="121.30" y="389.35" width="36.70" height="9.45" fill="#cc59ad"/>
<line x1="117.90" y1="394.07" x2="121.30" y2="394.07" stroke="#666" stroke-width="0.8"/>
<text transform="translate(115.60,396.07) scale(1,1.13)" font-size="6.4" text-anchor="end" fill="#1e1e1e" stroke="#1e1e1e" stroke-width="0.13" >Monocyte Fetal Kidney H.</text>
<rect x="121.30" y="401.45" width="36.70" height="9.45" fill="#cc59ad"/>
<line x1="117.90" y1="406.17" x2="121.30" y2="406.17" stroke="#666" stroke-width="0.8"/>
<text transform="translate(115.60,408.17) scale(1,1.13)" font-size="6.4" text-anchor="end" fill="#1e1e1e" stroke="#1e1e1e" stroke-width="0.13" >T Cell H.</text>
<rect x="121.30" y="413.55" width="37.70" height="9.45" fill="#cc59ad"/>
<line x1="117.90" y1="418.27" x2="121.30" y2="418.27" stroke="#666" stroke-width="0.8"/>
<text transform="translate(115.60,420.27) scale(1,1.13)" font-size="6.4" text-anchor="end" fill="#1e1e1e" stroke="#1e1e1e" stroke-width="0.13" >Macrophage Lung H.</text>
<rect x="121.30" y="425.65" width="37.70" height="9.45" fill="#cc59ad"/>
<line x1="117.90" y1="430.37" x2="121.30" y2="430.37" stroke="#666" stroke-width="0.8"/>
<text transform="translate(115.60,432.37) scale(1,1.13)" font-size="6.4" text-anchor="end" fill="#1e1e1e" stroke="#1e1e1e" stroke-width="0.13" >T Cell Peripheral Blood H.</text>
<rect x="121.30" y="437.75" width="38.70" height="9.45" fill="#cc59ad"/>
<line x1="117.90" y1="442.47" x2="121.30" y2="442.47" stroke="#666" stroke-width="0.8"/>
<text transform="translate(115.60,444.47) scale(1,1.13)" font-size="6.4" text-anchor="end" fill="#1e1e1e" stroke="#1e1e1e" stroke-width="0.13" >T Cell Lung H.</text>
<rect x="121.30" y="449.85" width="45.30" height="9.45" fill="#cc59ad"/>
<line x1="117.90" y1="454.57" x2="121.30" y2="454.57" stroke="#666" stroke-width="0.8"/>
<text transform="translate(115.60,456.57) scale(1,1.13)" font-size="6.4" text-anchor="end" fill="#1e1e1e" stroke="#1e1e1e" stroke-width="0.13" >M1 Macrophage Lung H.</text>
<rect x="121.30" y="461.95" width="46.70" height="9.45" fill="#cc59ad"/>
<line x1="117.90" y1="466.67" x2="121.30" y2="466.67" stroke="#666" stroke-width="0.8"/>
<text transform="translate(115.60,468.67) scale(1,1.13)" font-size="6.4" text-anchor="end" fill="#1e1e1e" stroke="#1e1e1e" stroke-width="0.13" >T Cell Brain H.</text>
<rect x="121.30" y="474.05" width="52.30" height="9.45" fill="#cc59ad"/>
<line x1="117.90" y1="478.77" x2="121.30" y2="478.77" stroke="#666" stroke-width="0.8"/>
<text transform="translate(115.60,480.77) scale(1,1.13)" font-size="6.4" text-anchor="end" fill="#1e1e1e" stroke="#1e1e1e" stroke-width="0.13" >Paneth Cell Large Intestine H.</text>
<rect x="121.30" y="486.15" width="60.30" height="9.45" fill="#cc59ad"/>
<line x1="117.90" y1="490.87" x2="121.30" y2="490.87" stroke="#666" stroke-width="0.8"/>
<text transform="translate(115.60,492.87) scale(1,1.13)" font-size="6.4" text-anchor="end" fill="#1e1e1e" stroke="#1e1e1e" stroke-width="0.13" >Leukocyte Blood H.</text>
<rect x="121.30" y="498.25" width="61.30" height="9.45" fill="#cc59ad"/>
<line x1="117.90" y1="502.97" x2="121.30" y2="502.97" stroke="#666" stroke-width="0.8"/>
<text transform="translate(115.60,504.97) scale(1,1.13)" font-size="6.4" text-anchor="end" fill="#1e1e1e" stroke="#1e1e1e" stroke-width="0.13" >B Cell H.</text>
<line x1="121.30" y1="386.40" x2="121.30" y2="510.60" stroke="#555" stroke-width="0.9"/>
<line x1="120.90" y1="510.20" x2="195.60" y2="510.20" stroke="#8a8a8a" stroke-width="1.3"/>
<line x1="121.30" y1="510.20" x2="121.30" y2="513.60" stroke="#555" stroke-width="0.8"/>
<text transform="translate(121.30,520.00) scale(1,1.15)" font-size="5.8" text-anchor="middle" fill="#1e1e1e" stroke="#1e1e1e" stroke-width="0.13" >0</text>
<line x1="139.85" y1="510.20" x2="139.85" y2="513.60" stroke="#555" stroke-width="0.8"/>
<text transform="translate(139.85,520.00) scale(1,1.15)" font-size="5.8" text-anchor="middle" fill="#1e1e1e" stroke="#1e1e1e" stroke-width="0.13" >5</text>
<line x1="158.40" y1="510.20" x2="158.40" y2="513.60" stroke="#555" stroke-width="0.8"/>
<text transform="translate(158.40,520.00) scale(1,1.15)" font-size="5.8" text-anchor="middle" fill="#1e1e1e" stroke="#1e1e1e" stroke-width="0.13" >10</text>
<line x1="176.95" y1="510.20" x2="176.95" y2="513.60" stroke="#555" stroke-width="0.8"/>
<text transform="translate(176.95,520.00) scale(1,1.15)" font-size="5.8" text-anchor="middle" fill="#1e1e1e" stroke="#1e1e1e" stroke-width="0.13" >15</text>
<line x1="195.50" y1="510.20" x2="195.50" y2="513.60" stroke="#555" stroke-width="0.8"/>
<text transform="translate(195.50,520.00) scale(1,1.15)" font-size="5.8" text-anchor="middle" fill="#1e1e1e" stroke="#1e1e1e" stroke-width="0.13" >20</text>
<text x="134.50" y="366.00" font-size="7.7" text-anchor="middle" fill="#1e1e1e" stroke="#1e1e1e" stroke-width="0.13" >Cell Markers</text>
<text x="133.70" y="376.20" font-size="6.6" text-anchor="middle" fill="#1e1e1e" stroke="#1e1e1e" stroke-width="0.13" >(84 common MS genes)</text>
<text transform="translate(156,529.4) scale(1,1.12)" font-size="5.5" text-anchor="middle" fill="#1e1e1e" stroke="#1e1e1e" stroke-width="0.13">-log<tspan font-size="4.2" dy="1.8">10</tspan><tspan dy="-1.8"> adj p value</tspan></text>
<rect x="374.60" y="389.35" width="18.40" height="9.45" fill="#949fc6"/>
<line x1="371.20" y1="394.07" x2="374.60" y2="394.07" stroke="#666" stroke-width="0.8"/>
<text transform="translate(369.20,396.07) scale(1,1.13)" font-size="6.4" text-anchor="end" fill="#1e1e1e" stroke="#1e1e1e" stroke-width="0.13" >T Cell Spleen M.</text>
<rect x="374.60" y="401.45" width="19.40" height="9.45" fill="#949fc6"/>
<line x1="371.20" y1="406.17" x2="374.60" y2="406.17" stroke="#666" stroke-width="0.8"/>
<text transform="translate(369.20,408.17) scale(1,1.13)" font-size="6.4" text-anchor="end" fill="#1e1e1e" stroke="#1e1e1e" stroke-width="0.13" >Megakaryocyte Erythroid Cell H.</text>
<rect x="374.60" y="413.55" width="23.80" height="9.45" fill="#949fc6"/>
<line x1="371.20" y1="418.27" x2="374.60" y2="418.27" stroke="#666" stroke-width="0.8"/>
<text transform="translate(369.20,420.27) scale(1,1.13)" font-size="6.4" text-anchor="end" fill="#1e1e1e" stroke="#1e1e1e" stroke-width="0.13" >T Cell H.</text>
<rect x="374.60" y="425.65" width="25.40" height="9.45" fill="#949fc6"/>
<line x1="371.20" y1="430.37" x2="374.60" y2="430.37" stroke="#666" stroke-width="0.8"/>
<text transform="translate(369.20,432.37) scale(1,1.13)" font-size="6.4" text-anchor="end" fill="#1e1e1e" stroke="#1e1e1e" stroke-width="0.13" >Natural Killer Cell Blood H.</text>
<rect x="374.60" y="437.75" width="25.80" height="9.45" fill="#949fc6"/>
<line x1="371.20" y1="442.47" x2="374.60" y2="442.47" stroke="#666" stroke-width="0.8"/>
<text transform="translate(369.20,444.47) scale(1,1.13)" font-size="6.4" text-anchor="end" fill="#1e1e1e" stroke="#1e1e1e" stroke-width="0.13" >Specialist Antigen Presenting Cell H.</text>
<rect x="374.60" y="449.85" width="27.80" height="9.45" fill="#949fc6"/>
<line x1="371.20" y1="454.57" x2="374.60" y2="454.57" stroke="#666" stroke-width="0.8"/>
<text transform="translate(369.20,456.57) scale(1,1.13)" font-size="6.4" text-anchor="end" fill="#1e1e1e" stroke="#1e1e1e" stroke-width="0.13" >Natural Killer Cell H.</text>
<rect x="374.60" y="461.95" width="32.40" height="9.45" fill="#949fc6"/>
<line x1="371.20" y1="466.67" x2="374.60" y2="466.67" stroke="#666" stroke-width="0.8"/>
<text transform="translate(369.20,468.67) scale(1,1.13)" font-size="6.4" text-anchor="end" fill="#1e1e1e" stroke="#1e1e1e" stroke-width="0.13" >Microglial Cell Embryonic PFC H.</text>
<rect x="374.60" y="474.05" width="32.40" height="9.45" fill="#949fc6"/>
<line x1="371.20" y1="478.77" x2="374.60" y2="478.77" stroke="#666" stroke-width="0.8"/>
<text transform="translate(369.20,480.77) scale(1,1.13)" font-size="6.4" text-anchor="end" fill="#1e1e1e" stroke="#1e1e1e" stroke-width="0.13" >B Cell H.</text>
<rect x="374.60" y="486.15" width="48.40" height="9.45" fill="#949fc6"/>
<line x1="371.20" y1="490.87" x2="374.60" y2="490.87" stroke="#666" stroke-width="0.8"/>
<text transform="translate(369.20,492.87) scale(1,1.13)" font-size="6.4" text-anchor="end" fill="#1e1e1e" stroke="#1e1e1e" stroke-width="0.13" >Paneth Cell Large Intestine H.</text>
<rect x="374.60" y="498.25" width="48.40" height="9.45" fill="#949fc6"/>
<line x1="371.20" y1="502.97" x2="374.60" y2="502.97" stroke="#666" stroke-width="0.8"/>
<text transform="translate(369.20,504.97) scale(1,1.13)" font-size="6.4" text-anchor="end" fill="#1e1e1e" stroke="#1e1e1e" stroke-width="0.13" >Microglial Cell Brain M.</text>
<line x1="374.60" y1="386.40" x2="374.60" y2="510.60" stroke="#555" stroke-width="0.9"/>
<line x1="374.20" y1="510.20" x2="449.60" y2="510.20" stroke="#8a8a8a" stroke-width="1.3"/>
<line x1="374.60" y1="510.20" x2="374.60" y2="513.60" stroke="#555" stroke-width="0.8"/>
<text transform="translate(374.60,520.00) scale(1,1.15)" font-size="5.8" text-anchor="middle" fill="#1e1e1e" stroke="#1e1e1e" stroke-width="0.13" >0</text>
<line x1="399.60" y1="510.20" x2="399.60" y2="513.60" stroke="#555" stroke-width="0.8"/>
<text transform="translate(399.60,520.00) scale(1,1.15)" font-size="5.8" text-anchor="middle" fill="#1e1e1e" stroke="#1e1e1e" stroke-width="0.13" >5</text>
<line x1="424.60" y1="510.20" x2="424.60" y2="513.60" stroke="#555" stroke-width="0.8"/>
<text transform="translate(424.60,520.00) scale(1,1.15)" font-size="5.8" text-anchor="middle" fill="#1e1e1e" stroke="#1e1e1e" stroke-width="0.13" >10</text>
<line x1="449.60" y1="510.20" x2="449.60" y2="513.60" stroke="#555" stroke-width="0.8"/>
<text transform="translate(449.60,520.00) scale(1,1.15)" font-size="5.8" text-anchor="middle" fill="#1e1e1e" stroke="#1e1e1e" stroke-width="0.13" >15</text>
<text x="378.50" y="366.00" font-size="7.7" text-anchor="middle" fill="#1e1e1e" stroke="#1e1e1e" stroke-width="0.13" >Cell Markers</text>
<text x="377.50" y="376.20" font-size="6.6" text-anchor="middle" fill="#1e1e1e" stroke="#1e1e1e" stroke-width="0.13" >(86 EAE-H MS genes)</text>
<text transform="translate(411.5,529.4) scale(1,1.12)" font-size="5.5" text-anchor="middle" fill="#1e1e1e" stroke="#1e1e1e" stroke-width="0.13">-log<tspan font-size="4.2" dy="1.8">10</tspan><tspan dy="-1.8"> adj p value</tspan></text>
<rect x="586.40" y="389.35" width="49.20" height="9.45" fill="#949fc6"/>
<line x1="583.00" y1="394.07" x2="586.40" y2="394.07" stroke="#666" stroke-width="0.8"/>
<text transform="translate(579.80,396.07) scale(1,1.13)" font-size="6.4" text-anchor="end" fill="#1e1e1e" stroke="#1e1e1e" stroke-width="0.13" >Tertiary Granule</text>
<rect x="586.40" y="401.45" width="49.20" height="9.45" fill="#949fc6"/>
<line x1="583.00" y1="406.17" x2="586.40" y2="406.17" stroke="#666" stroke-width="0.8"/>
<text transform="translate(579.80,408.17) scale(1,1.13)" font-size="6.4" text-anchor="end" fill="#1e1e1e" stroke="#1e1e1e" stroke-width="0.13" >Azurophil Granule</text>
<rect x="586.40" y="413.55" width="49.20" height="9.45" fill="#949fc6"/>
<line x1="583.00" y1="418.27" x2="586.40" y2="418.27" stroke="#666" stroke-width="0.8"/>
<text transform="translate(579.80,420.27) scale(1,1.13)" font-size="6.4" text-anchor="end" fill="#1e1e1e" stroke="#1e1e1e" stroke-width="0.13" >Lytic Vacuole</text>
<rect x="586.40" y="425.65" width="52.80" height="9.45" fill="#949fc6"/>
<line x1="583.00" y1="430.37" x2="586.40" y2="430.37" stroke="#666" stroke-width="0.8"/>
<text transform="translate(579.80,432.37) scale(1,1.13)" font-size="6.4" text-anchor="end" fill="#1e1e1e" stroke="#1e1e1e" stroke-width="0.13" >Lysosome</text>
<rect x="586.40" y="437.75" width="57.60" height="9.45" fill="#949fc6"/>
<line x1="583.00" y1="442.47" x2="586.40" y2="442.47" stroke="#666" stroke-width="0.8"/>
<text transform="translate(579.80,444.47) scale(1,1.13)" font-size="6.4" text-anchor="end" fill="#1e1e1e" stroke="#1e1e1e" stroke-width="0.13" >Specific Granule Lumen</text>
<rect x="586.40" y="449.85" width="57.60" height="9.45" fill="#949fc6"/>
<line x1="583.00" y1="454.57" x2="586.40" y2="454.57" stroke="#666" stroke-width="0.8"/>
<text transform="translate(579.80,456.57) scale(1,1.13)" font-size="6.4" text-anchor="end" fill="#1e1e1e" stroke="#1e1e1e" stroke-width="0.13" >Secretory Granule Membrane</text>
<rect x="586.40" y="461.95" width="60.60" height="9.45" fill="#949fc6"/>
<line x1="583.00" y1="466.67" x2="586.40" y2="466.67" stroke="#666" stroke-width="0.8"/>
<text transform="translate(579.80,468.67) scale(1,1.13)" font-size="6.4" text-anchor="end" fill="#1e1e1e" stroke="#1e1e1e" stroke-width="0.13" >Specific Granule</text>
<rect x="586.40" y="474.05" width="61.60" height="9.45" fill="#949fc6"/>
<line x1="583.00" y1="478.77" x2="586.40" y2="478.77" stroke="#666" stroke-width="0.8"/>
<text transform="translate(579.80,480.77) scale(1,1.13)" font-size="6.4" text-anchor="end" fill="#1e1e1e" stroke="#1e1e1e" stroke-width="0.13" >Connexin Complex</text>
<rect x="586.40" y="486.15" width="61.60" height="9.45" fill="#949fc6"/>
<line x1="583.00" y1="490.87" x2="586.40" y2="490.87" stroke="#666" stroke-width="0.8"/>
<text transform="translate(579.80,492.87) scale(1,1.13)" font-size="6.4" text-anchor="end" fill="#1e1e1e" stroke="#1e1e1e" stroke-width="0.13" >Secretory Granule Lumen</text>
<rect x="586.40" y="498.25" width="61.60" height="9.45" fill="#949fc6"/>
<line x1="583.00" y1="502.97" x2="586.40" y2="502.97" stroke="#666" stroke-width="0.8"/>
<text transform="translate(579.80,504.97) scale(1,1.13)" font-size="6.4" text-anchor="end" fill="#1e1e1e" stroke="#1e1e1e" stroke-width="0.13" >Gap Junction</text>
<line x1="586.40" y1="386.40" x2="586.40" y2="510.60" stroke="#555" stroke-width="0.9"/>
<line x1="586.00" y1="510.20" x2="661.00" y2="510.20" stroke="#8a8a8a" stroke-width="1.3"/>
<line x1="586.40" y1="510.20" x2="586.40" y2="513.60" stroke="#555" stroke-width="0.8"/>
<text transform="translate(586.40,520.00) scale(1,1.15)" font-size="5.8" text-anchor="middle" fill="#1e1e1e" stroke="#1e1e1e" stroke-width="0.13" >0</text>
<line x1="605.05" y1="510.20" x2="605.05" y2="513.60" stroke="#555" stroke-width="0.8"/>
<text transform="translate(605.05,520.00) scale(1,1.15)" font-size="5.8" text-anchor="middle" fill="#1e1e1e" stroke="#1e1e1e" stroke-width="0.13" >1</text>
<line x1="623.70" y1="510.20" x2="623.70" y2="513.60" stroke="#555" stroke-width="0.8"/>
<text transform="translate(623.70,520.00) scale(1,1.15)" font-size="5.8" text-anchor="middle" fill="#1e1e1e" stroke="#1e1e1e" stroke-width="0.13" >2</text>
<line x1="642.35" y1="510.20" x2="642.35" y2="513.60" stroke="#555" stroke-width="0.8"/>
<text transform="translate(642.35,520.00) scale(1,1.15)" font-size="5.8" text-anchor="middle" fill="#1e1e1e" stroke="#1e1e1e" stroke-width="0.13" >3</text>
<line x1="661.00" y1="510.20" x2="661.00" y2="513.60" stroke="#555" stroke-width="0.8"/>
<text transform="translate(661.00,520.00) scale(1,1.15)" font-size="5.8" text-anchor="middle" fill="#1e1e1e" stroke="#1e1e1e" stroke-width="0.13" >4</text>
<text x="604.50" y="366.00" font-size="7.7" text-anchor="middle" fill="#1e1e1e" stroke="#1e1e1e" stroke-width="0.13" >GO Cellular Component</text>
<text x="605.50" y="376.20" font-size="6.6" text-anchor="middle" fill="#1e1e1e" stroke="#1e1e1e" stroke-width="0.13" >(86 EAE-H MS genes)</text>
<text transform="translate(624.8,529.4) scale(1,1.12)" font-size="5.5" text-anchor="middle" fill="#1e1e1e" stroke="#1e1e1e" stroke-width="0.13">-log<tspan font-size="4.2" dy="1.8">10</tspan><tspan dy="-1.8"> adj p value</tspan></text>
</svg></body></html>
